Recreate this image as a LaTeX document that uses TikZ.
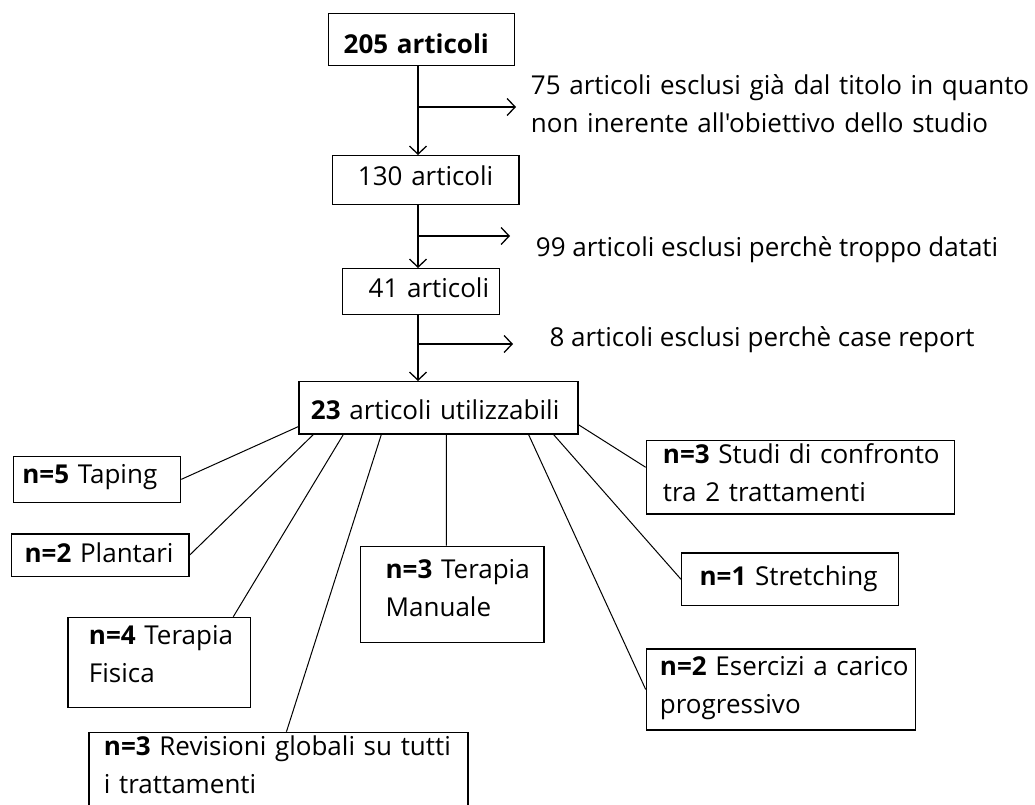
\documentclass[tikz,border=0pt]{standalone}
\usepackage{fontspec}
\setmainfont{Open Sans}[Ligatures = TeXOff]
\usetikzlibrary{arrows.meta}

\begin{document}
\begin{tikzpicture} [x = 1pt, y = -1pt,
    every node/.style = {font = \fontsize{26}{38}\selectfont},
    box/.style = {draw, line width = 1.3pt, anchor = north west, align = left, inner sep = 0pt},
    lpad/.style = {execute at begin node = {\leftskip=#1pt}},
    note/.style = {anchor = base west, inner sep = 0pt, align = left},
    flow/.style = {line width = 1.3pt, -{Straight Barb[length = 8pt, width = 17pt]}},
    link/.style = {line width = 1pt}]
\useasboundingbox (0,0) rectangle (1035,805);
% selection
\node (b205) [box, lpad = 15, text width = 186pt, text height = 39.4pt, text depth = 12.6pt] at (328,13) {\textbf{205 articoli}};
\node (b130) [box, align = center, text width = 186.6pt, text height = 30pt, text depth = 19pt] at (331.7,155) {130 articoli};
\node (b41) [box, lpad = 26, text width = 157pt, text height = 29pt, text depth = 17pt] at (342,268) {41 articoli};
\node (hub) [box, lpad = 12, text width = 279pt, text height = 38.3pt, text depth = 14pt] at (298.3,381) {\textbf{23} articoli utilizzabili};
% excluded
\node (e1) [note, text width = 500pt] at (530.7,95) {75 articoli esclusi già dal titolo in quanto\\non inerente all'obiettivo dello studio};
\node (e2) [note] at (535.7,256.7) {99 articoli esclusi perchè troppo datati};
\node (e3) [note] at (549.3,346.7) {8 articoli esclusi perchè case report};
% treatments
\node (taping) [box, lpad = 9, text width = 167.3pt, text height = 27pt, text depth = 19pt] at (12.7,455.7) {\textbf{n=5} Taping};
\node (plantari) [box, lpad = 13, text width = 177.3pt, text height = 28.3pt, text depth = 14.1pt] at (11,533.3) {\textbf{n=2} Plantari};
\node (fisica) [box, lpad = 21, text width = 182.7pt, text height = 26.7pt, text depth = 63.3pt] at (67.3,616.7) {\textbf{n=4} Terapia\\Fisica};
\node (revisioni) [box, lpad = 15, text width = 379pt, text height = 23.3pt, text depth = 90pt] at (88.3,731.7) {\textbf{n=3} Revisioni globali su tutti\\i trattamenti};
\node (manuale) [box, lpad = 25, text width = 183.3pt, text height = 32pt, text depth = 64pt] at (360,545.7) {\textbf{n=3} Terapia\\Manuale};
\node (studi) [box, lpad = 16.6, text width = 308.3pt, text height = 23.3pt, text depth = 50pt] at (645.7,440) {\textbf{n=3} Studi di confronto\\tra 2 trattamenti};
\node (stretching) [box, lpad = 18, text width = 216.7pt, text height = 32.7pt, text depth = 20pt] at (681,552.3) {\textbf{n=1} Stretching};
\node (esercizi) [box, lpad = 13.6, text width = 269.3pt, text height = 26.7pt, text depth = 54.3pt] at (645.7,648.3) {\textbf{n=2} Esercizi a carico\\progressivo};
% branch points
\coordinate (j1) at (418,107);
\coordinate (t1) at (516,107);
\coordinate (j2) at (418,236);
\coordinate (t2) at (510,236);
\coordinate (j3) at (418,344);
\coordinate (t3) at (513,344);
\draw [flow] (b205.south -| j1) -- (b130.north -| j1);
\draw [flow] (j1) -- (t1);
\draw [flow] (b130.south -| j2) -- (b41.north -| j2);
\draw [flow] (j2) -- (t2);
\draw [flow] (b41.south -| j3) -- (hub.north -| j3);
\draw [flow] (j3) -- (t3);
\path [link]
    ([yshift = 8pt]hub.south west) edge (taping.east)
    ([xshift = 15pt]hub.south west) edge (plantari.east)
    ([xshift = 45pt]hub.south west) edge ([xshift = -18pt]fisica.north east)
    ([xshift = 83pt]hub.south west) edge ([xshift = 8pt]revisioni.north)
    ([xshift = 8pt]hub.south) edge ([xshift = -6pt]manuale.north)
    ([yshift = -17pt]hub.east) edge ([yshift = 10pt]studi.west)
    ([xshift = -25pt]hub.south east) edge (stretching.west)
    ([xshift = -50pt]hub.south east) edge (esercizi.west);
\end{tikzpicture}
\end{document}
